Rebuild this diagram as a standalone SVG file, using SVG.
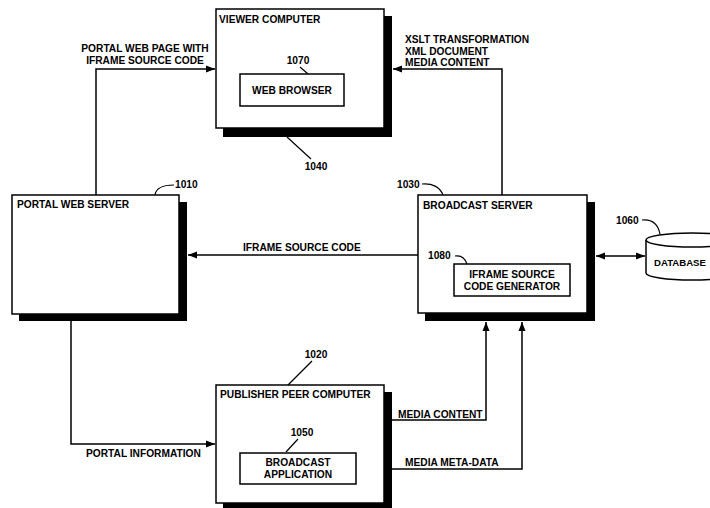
<svg xmlns="http://www.w3.org/2000/svg" width="710" height="508" viewBox="0 0 710 508">
<defs>
<marker id="arr" markerWidth="10" markerHeight="8" refX="9" refY="4" orient="auto" markerUnits="userSpaceOnUse">
<path d="M0,0.5 L9,4 L0,7.5 Z" fill="#000"/>
</marker>
<marker id="arrs" markerWidth="10" markerHeight="8" refX="1" refY="4" orient="auto" markerUnits="userSpaceOnUse">
<path d="M10,0.5 L1,4 L10,7.5 Z" fill="#000"/>
</marker>
<style>
text{font-family:"Liberation Sans",Arial,sans-serif;font-weight:bold;font-size:10.2px;fill:#000}
.c{text-anchor:middle}
.box{fill:#fff;stroke:#000;stroke-width:1.5}
.sh{fill:#000}
.inner{fill:#fff;stroke:#000;stroke-width:1.5}
.ld{fill:none;stroke:#000;stroke-width:1.2}
.cn{fill:none;stroke:#000;stroke-width:1.5}
</style>
</defs>
<rect width="710" height="508" fill="#fff"/>

<g id="connectors">
<path class="cn" d="M96,195 V69 H215" marker-end="url(#arr)"/>
<path class="cn" d="M502,195 V69 H393" marker-end="url(#arr)"/>
<path class="cn" d="M418,255 H188" marker-end="url(#arr)"/>
<path class="cn" d="M71,321 V444 H215" marker-end="url(#arr)"/>
<path class="cn" d="M392,420 H486 V322" marker-end="url(#arr)"/>
<path class="cn" d="M392,469 H522 V322" marker-end="url(#arr)"/>
<path class="cn" d="M596,256 H645" marker-start="url(#arrs)" marker-end="url(#arr)"/>
<text class="c" x="145" y="52">PORTAL WEB PAGE WITH</text>
<text class="c" x="145" y="64">IFRAME SOURCE CODE</text>
<text x="405" y="43">XSLT TRANSFORMATION</text>
<text x="405" y="55">XML DOCUMENT</text>
<text x="405" y="66">MEDIA CONTENT</text>
<text x="243" y="251">IFRAME SOURCE CODE</text>
<text x="86" y="457">PORTAL INFORMATION</text>
<text x="398" y="418">MEDIA CONTENT</text>
<text x="405" y="466">MEDIA META-DATA</text>
</g>

<g id="viewer-computer">
<rect class="sh" x="223" y="16" width="169" height="121"/>
<rect class="box" x="216" y="9" width="168" height="119"/>
<text x="219" y="23">VIEWER COMPUTER</text>
<text class="c" x="298" y="64">1070</text>
<path class="ld" d="M300,67 L308,74"/>
<text class="c" x="316" y="170">1040</text>
<path class="ld" d="M287,137 L311,159"/>
</g>

<g id="web-browser">
<rect class="inner" x="240" y="74" width="104" height="32"/>
<text class="c" x="292" y="94">WEB BROWSER</text>
</g>

<g id="portal-web-server">
<rect class="sh" x="19" y="202" width="168" height="119"/>
<rect class="box" x="12" y="195" width="167" height="119"/>
<text x="17" y="208">PORTAL WEB SERVER</text>
<text x="175" y="188">1010</text>
<path class="ld" d="M155,195 C156,188 162,185 174,185"/>
</g>

<g id="broadcast-server">
<rect class="sh" x="425" y="202" width="170" height="119"/>
<rect class="box" x="418" y="195" width="169" height="118"/>
<text x="423" y="209">BROADCAST SERVER</text>
<text x="397" y="188">1030</text>
<path class="ld" d="M422,184 C432,183 440,187 443,195"/>
</g>

<g id="iframe-source-code-generator">
<rect class="inner" x="454" y="264" width="116" height="32"/>
<text class="c" x="512" y="278">IFRAME SOURCE</text>
<text class="c" x="512" y="290">CODE GENERATOR</text>
<text x="428" y="259">1080</text>
<path class="ld" d="M455,256 C461,255 465,258 467,264"/>
</g>

<g id="database">
<path class="box" d="M646,240 V273 A46,7 0 0 0 738,273 V240"/>
<ellipse class="box" cx="692" cy="240" rx="46" ry="7"/>
<text x="654" y="266" style="font-size:9.6px">DATABASE</text>
<text x="616" y="224">1060</text>
<path class="ld" d="M642,220 C652,219 658,224 660,234"/>
</g>

<g id="publisher-peer-computer">
<rect class="sh" x="223" y="392" width="169" height="120"/>
<rect class="box" x="216" y="385" width="168" height="118"/>
<text x="220" y="398">PUBLISHER PEER COMPUTER</text>
<text class="c" x="316" y="358">1020</text>
<path class="ld" d="M312,361 L288,385"/>
</g>

<g id="broadcast-application">
<rect class="inner" x="240" y="453" width="116" height="31"/>
<text class="c" x="298" y="466">BROADCAST</text>
<text class="c" x="298" y="478">APPLICATION</text>
<text class="c" x="302" y="436">1050</text>
<path class="ld" d="M298,439 L286,452"/>
</g>
</svg>
